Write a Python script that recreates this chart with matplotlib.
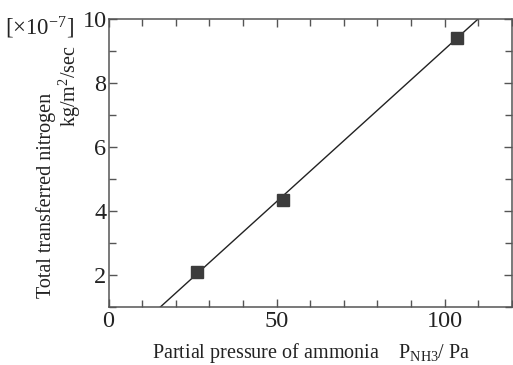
import matplotlib.pyplot as plt
from matplotlib.ticker import MultipleLocator

plt.rcParams['font.family'] = ['Liberation Serif', 'DejaVu Serif']
plt.rcParams['mathtext.fontset'] = 'custom'
plt.rcParams['mathtext.rm'] = 'Liberation Serif'
plt.rcParams['mathtext.it'] = 'Liberation Serif:italic'

# measured points
pressure = [26.3, 51.8, 103.8]
nitrogen = [2.09, 4.35, 9.41]

# fitted line endpoints
fit_x = [15.4, 110.0]
fit_y = [1.0, 10.0]

ink = '#3c3c3c'
txt = '#222222'

fig = plt.figure(figsize=(5.13, 3.65), dpi=100)
ax = fig.add_axes([108.6 / 513, 1 - 307 / 365, (511.7 - 108.6) / 513, (307 - 19) / 365])

ax.plot(fit_x, fit_y, color='#222222', lw=1.0)
ax.plot(pressure, nitrogen, 's', color=ink, markersize=9.1)

ax.set_xlim(0, 120)
ax.set_ylim(1, 10)
ax.xaxis.set_major_locator(MultipleLocator(50))
ax.xaxis.set_minor_locator(MultipleLocator(10))
ax.yaxis.set_major_locator(MultipleLocator(2))
ax.yaxis.set_minor_locator(MultipleLocator(1))
ax.tick_params(which='both', direction='in', top=True, right=True,
               color='#555555', labelsize=17.5, labelcolor=txt, width=1)
ax.tick_params(which='major', length=6)
ax.tick_params(which='minor', length=5)
ax.tick_params(axis='x', pad=3)
ax.tick_params(axis='y', pad=1.5)
for s in ax.spines.values():
    s.set_color('#555555')
    s.set_linewidth(1.1)

fig.text(0.606, 1 - 358 / 365, r'Partial pressure of ammonia    P$_{\mathrm{NH3}}$/ Pa',
         ha='center', va='baseline', fontsize=14.5, color=txt)
fig.text(46 / 513, 1 - 195 / 365, 'Total transferred nitrogen', rotation=90,
         ha='center', va='center', fontsize=14.5, color=txt)
fig.text(70 / 513, 1 - 86 / 365, r'kg/m$^2$/sec', rotation=90,
         ha='center', va='center', fontsize=14.5, color=txt)
fig.text(40 / 513, 1 - 28 / 365, '[×10$^{-7}$]', ha='center', va='center',
         fontsize=16.5, color=txt)

fig.savefig('out.png', dpi=100)
